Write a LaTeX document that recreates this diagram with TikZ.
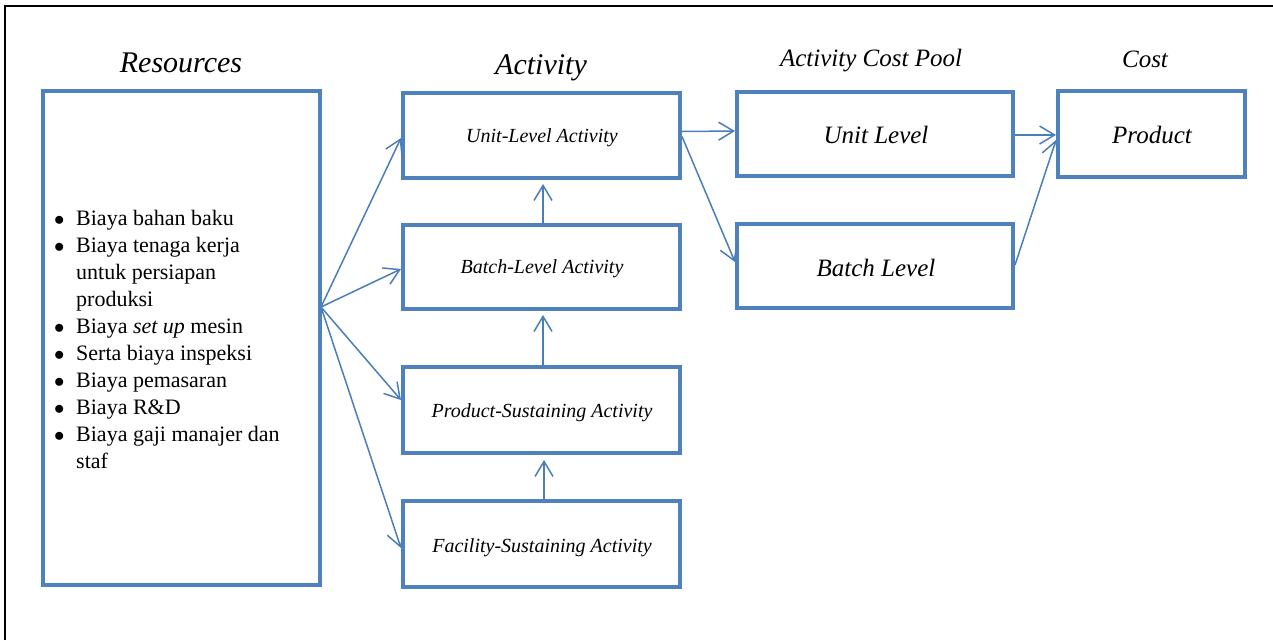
\documentclass[tikz,border=0pt]{standalone}
\usepackage{fontspec}
\setmainfont{Liberation Serif}
\usetikzlibrary{arrows.meta,calc}
\definecolor{boxblue}{HTML}{4F81BD}
\definecolor{arrblue}{HTML}{4A7EBB}
\begin{document}
\begin{tikzpicture}[x=1pt,y=-1pt,
  box/.style={draw=boxblue,line width=4pt,rectangle,inner sep=0pt,minimum width=277pt},
  ttl/.style={font=\fontsize{30}{36}\selectfont\itshape,inner sep=0pt,anchor=base},
  ttlb/.style={font=\fontsize{25}{30}\selectfont\itshape,inner sep=0pt,anchor=base},
  act/.style={font=\fontsize{20}{24}\selectfont\itshape,inner sep=0pt,anchor=base},
  big/.style={font=\fontsize{25}{30}\selectfont\itshape,inner sep=0pt,anchor=base},
  conn/.style={draw=arrblue,line width=1.5pt,-{Straight Barb[length=15pt,width=18pt,line width=1.5pt]}}
]
\useasboundingbox (0,0) rectangle (1273,640);
\draw[line width=2pt] (5,640) -- (5,6) -- (1273,6);

% titles
\node[ttl] (tres) at (181,72) {Resources};
\node[ttl] (tact) at (541,74) {Activity};
\node[ttlb] (tpool) at (871,66) {Activity Cost Pool};
\node[ttlb] (tcost) at (1145,67) {Cost};

% resources box
\node[box,minimum width=277pt,minimum height=494pt] (res) at (181.5,338) {};
\node[anchor=base west,inner sep=0pt,font=\fontsize{22}{27.1}\selectfont] (list) at (54,225) {%
\begin{tabular}[t]{@{}p{22pt}@{}l@{}}
$\bullet$ & Biaya bahan baku\\
$\bullet$ & Biaya tenaga kerja\\
 & untuk persiapan\\
 & produksi\\
$\bullet$ & Biaya \textit{set up} mesin\\
$\bullet$ & Serta biaya inspeksi\\
$\bullet$ & Biaya pemasaran\\
$\bullet$ & Biaya R\&D\\
$\bullet$ & Biaya gaji manajer dan\\
 & staf
\end{tabular}};

% activity boxes
\node[box,minimum height=85pt] (unit) at (541.5,135.5) {};
\node[box,minimum height=84pt] (batch) at (541.5,267) {};
\node[box,minimum height=86pt] (psa) at (541.5,410) {};
\node[box,minimum height=86pt] (fsa) at (541.5,544) {};
\node[act] (tunit) at (542,142) {Unit-Level Activity};
\node[act] (tbatch) at (542,273) {Batch-Level Activity};
\node[act] (tpsa) at (542,417) {Product-Sustaining Activity};
\node[act] (tfsa) at (542,552) {Facility-Sustaining Activity};

% cost pool boxes
\node[box,minimum width=276pt,minimum height=84pt] (cpu) at (875,134) {};
\node[box,minimum width=276pt,minimum height=84pt] (cpb) at (875,266) {};
\node[big] (tcpu) at (876,143) {Unit Level};
\node[big] (tcpb) at (876,276) {Batch Level};

% product
\node[box,minimum width=187pt,minimum height=86pt] (prod) at (1151.5,134) {};
\node[big] (tprod) at (1152,143) {Product};

% connectors
\coordinate (fan) at (321,307);
\draw[conn] (fan) -- ([yshift=-2.5pt]unit.west);
\draw[conn] (fan) -- ([yshift=-2pt]batch.west);
\draw[conn] (fan) -- ([yshift=10pt]psa.west);
\draw[conn] (fan) -- ([yshift=-4pt]fsa.west);

\draw[conn,shorten >=4pt] ([xshift=1.5pt]batch.north) -- ([xshift=1.5pt]unit.south);
\draw[conn,shorten >=4pt] ([xshift=1.5pt]psa.north) -- ([xshift=1.5pt]batch.south);
\draw[conn,shorten >=5pt] ([xshift=2.5pt]fsa.north) -- ([xshift=2.5pt]psa.south);

\draw[conn] ([yshift=4pt]unit.east) -- ([yshift=3pt]cpu.west);
\draw[conn] ([yshift=-1pt]unit.east) -- ([yshift=4pt]cpb.west);
\draw[conn] ([yshift=-1pt]cpu.east) -- ([yshift=-1pt]prod.west);
\draw[conn] ([yshift=1pt]cpb.east) -- ([yshift=-6pt]prod.west);
\end{tikzpicture}
\end{document}
